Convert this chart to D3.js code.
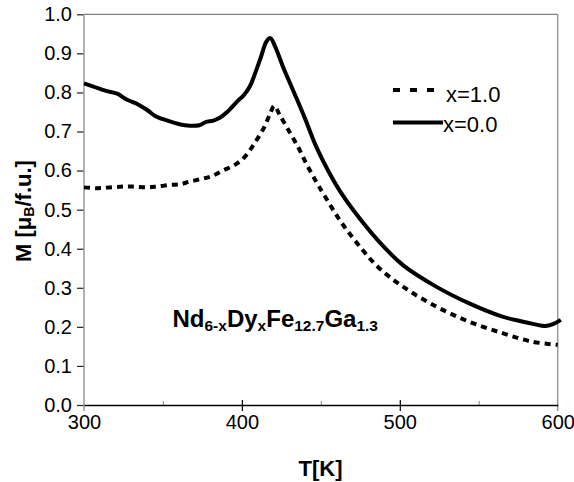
<!DOCTYPE html>
<html>
<head>
<meta charset="utf-8">
<script src="https://cdn.jsdelivr.net/npm/d3@7"></script>
<style>
  html, body { margin: 0; padding: 0; background: #fff; }
  svg { display: block; font-family: "Liberation Sans", Arial, Helvetica, sans-serif; }
</style>
</head>
<body>
<svg id="chart" width="574" height="482"></svg>
<script>
// Magnetisation vs temperature for Nd(6-x)Dy(x)Fe12.7Ga1.3
const tempX0 = [300,306,314,321,327,334,340,345,352,361,367,373,377,382,386,391,398,401,405,408,412,415.5,418,421,426,433,440,447,455,462,470.5,486,502,523,544,565,576,585,592,597,602];
const magX0  = [0.823,0.815,0.804,0.797,0.782,0.770,0.755,0.740,0.729,0.718,0.715,0.716,0.724,0.728,0.735,0.751,0.781,0.792,0.815,0.845,0.890,0.930,0.939,0.918,0.866,0.800,0.733,0.662,0.597,0.548,0.499,0.422,0.358,0.303,0.260,0.226,0.215,0.207,0.202,0.207,0.218];

const tempX1 = [300,308,316,325,331,340,346,354,361,367,374,381,388,396,402,408,414,418,420.5,424,430,436,441,447,452,462,473,486,502,523,544,565,584,600];
const magX1  = [0.557,0.555,0.557,0.559,0.559,0.557,0.559,0.563,0.565,0.572,0.578,0.586,0.600,0.616,0.636,0.670,0.710,0.747,0.766,0.742,0.700,0.657,0.616,0.572,0.538,0.473,0.414,0.354,0.303,0.252,0.213,0.184,0.162,0.154];

const xTicks = [300, 400, 500, 600];
const xMinorTicks = [350, 450, 550];
const yTicks = [0, 0.1, 0.2, 0.3, 0.4, 0.5, 0.6, 0.7, 0.8, 0.9, 1.0];
const legendLabels = ["x=1.0", "x=0.0"];

const svg = d3.select("#chart");
const plotLeft = 84, plotRight = 557.7, plotTop = 14.3, plotBottom = 405;

const x = d3.scaleLinear().domain([300, 600]).range([plotLeft, plotRight]);
const y = d3.scaleLinear().domain([0, 1]).range([plotBottom, plotTop]);

// plot frame: top and right edges in grey
svg.append("line").attr("x1", plotLeft).attr("x2", plotRight).attr("y1", plotTop).attr("y2", plotTop)
  .attr("stroke", "#808080").attr("stroke-width", 1.2);
svg.append("line").attr("x1", plotRight).attr("x2", plotRight).attr("y1", plotTop).attr("y2", plotBottom + 6)
  .attr("stroke", "#9a9a9a").attr("stroke-width", 1.5);

// y axis
const yAxis = svg.append("g").attr("transform", `translate(${plotLeft},0)`)
  .call(d3.axisLeft(y).tickValues(yTicks).tickFormat(d3.format(".1f")).tickSize(7).tickPadding(5).tickSizeOuter(0));
yAxis.select(".domain").remove();
yAxis.selectAll(".tick line").attr("stroke", "#222").attr("stroke-width", 1.2);
yAxis.selectAll("text").attr("font-size", 20).attr("fill", "#000")
  .attr("font-family", "'Liberation Sans', Arial, sans-serif");
svg.append("line").attr("x1", plotLeft).attr("x2", plotLeft).attr("y1", plotTop).attr("y2", plotBottom + 6)
  .attr("stroke", "#9a9a9a").attr("stroke-width", 1.5);

// x axis
const xMinor = svg.append("g").attr("transform", `translate(0,${plotBottom})`)
  .call(d3.axisBottom(x).tickValues(xMinorTicks).tickSize(-4).tickFormat(""));
xMinor.select(".domain").remove();
xMinor.selectAll(".tick line").attr("stroke", "#999").attr("stroke-width", 1.2);

const xAxis = svg.append("g").attr("transform", `translate(0,${plotBottom})`)
  .call(d3.axisBottom(x).tickValues(xTicks).tickSize(6).tickPadding(4).tickSizeOuter(0));
xAxis.select(".domain").attr("stroke", "#000").attr("stroke-width", 1.3);
xAxis.selectAll(".tick line").attr("y1", -5).attr("stroke", "#000").attr("stroke-width", 1.2)
  .filter(d => d === 300 || d === 600).remove();
xAxis.selectAll("text").attr("font-size", 20).attr("fill", "#000")
  .attr("font-family", "'Liberation Sans', Arial, sans-serif");

// curves
const line = d3.line().curve(d3.curveCatmullRom.alpha(0.5)).x(d => x(d[0])).y(d => y(d[1]));
svg.append("path")
  .datum(d3.zip(tempX1, magX1))
  .attr("d", line)
  .attr("fill", "none").attr("stroke", "#000").attr("stroke-width", 4)
  .attr("stroke-dasharray", "6,5");
svg.append("path")
  .datum(d3.zip(tempX0, magX0))
  .attr("d", line)
  .attr("fill", "none").attr("stroke", "#000").attr("stroke-width", 4)
  .attr("stroke-linejoin", "round");

// legend
const legend = svg.append("g");
legend.append("line").attr("x1", 393).attr("x2", 435).attr("y1", 90).attr("y2", 90)
  .attr("stroke", "#000").attr("stroke-width", 4).attr("stroke-dasharray", "7,10");
legend.append("text").attr("x", 446).attr("y", 101.5).attr("font-size", 22).text(legendLabels[0]);
legend.append("line").attr("x1", 393).attr("x2", 443).attr("y1", 122.5).attr("y2", 122.5)
  .attr("stroke", "#000").attr("stroke-width", 4);
legend.append("text").attr("x", 443).attr("y", 131.5).attr("font-size", 22).text(legendLabels[1]);

// compound formula with subscripts
const formula = svg.append("text").attr("x", 172.5).attr("y", 326.5)
  .attr("font-size", 24).attr("font-weight", "bold");
const parts = [["Nd", false], ["6-x", true], ["Dy", false], ["x", true], ["Fe", false], ["12.7", true], ["Ga", false], ["1.3", true]];
parts.forEach(([t, sub], i) => {
  const ts = formula.append("tspan").text(t);
  if (sub) ts.attr("font-size", 15.5).attr("dy", 4);
  else if (i > 0) ts.attr("dy", -4);
});

// axis titles
svg.append("text").attr("x", 320.5).attr("y", 476).attr("text-anchor", "middle")
  .attr("font-size", 22).attr("font-weight", "bold").text("T[K]");

const yTitle = svg.append("text").attr("transform", "translate(31,211) rotate(-90)")
  .attr("text-anchor", "middle").attr("font-size", 22).attr("font-weight", "bold");
yTitle.append("tspan").text("M [μ");
yTitle.append("tspan").text("B").attr("font-size", 14).attr("dy", 3);
yTitle.append("tspan").text("/f.u.]").attr("dy", -3);
</script>
</body>
</html>
